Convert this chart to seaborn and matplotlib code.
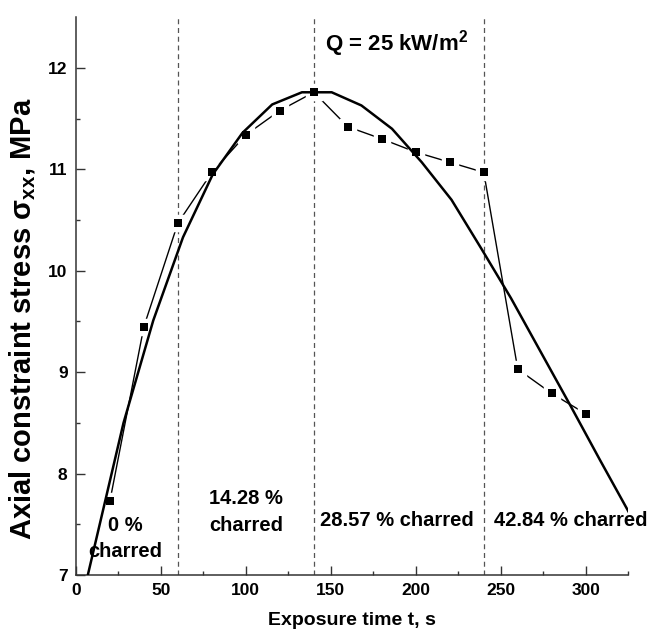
import matplotlib
matplotlib.use("Agg")
import matplotlib.pyplot as plt
import seaborn as sns
import pandas as pd

# Measured axial constraint stress vs exposure time
time_s = [20, 40, 60, 80, 100, 120, 140, 160, 180, 200, 220, 240, 260, 280, 300]
stress_mpa = [7.73, 9.45, 10.47, 10.97, 11.34, 11.58, 11.76, 11.42, 11.30, 11.17,
              11.07, 10.97, 9.03, 8.79, 8.59]

# Smoothed trend curve
fit_time = [7, 28, 45.5, 63, 80.5, 98, 115.5, 133, 150.5, 168, 186, 203.5, 221,
            238.5, 256, 273.5, 291, 308.5, 326]
fit_stress = [7.0, 8.50, 9.51, 10.33, 10.95, 11.36, 11.64, 11.76, 11.76, 11.63,
              11.40, 11.07, 10.70, 10.22, 9.73, 9.20, 8.67, 8.13, 7.60]

# Char-layer stage boundaries and labels
stage_bounds = [60, 140, 240]
stage_labels = ["0 %\ncharred", "14.28 %\ncharred", "28.57 % charred", "42.84 % charred"]
stage_label_x = [29, 100, 189, 291]
stage_label_y = [7.36, 7.62, 7.54, 7.54]

sns.set_theme(style="ticks")
plt.rcParams["font.family"] = ["Liberation Sans", "DejaVu Sans"]
plt.rcParams["font.weight"] = "bold"
plt.rcParams["mathtext.default"] = "regular"
plt.rcParams["text.color"] = "black"
plt.rcParams["axes.labelcolor"] = "black"
plt.rcParams["xtick.labelcolor"] = "black"
plt.rcParams["ytick.labelcolor"] = "black"

fig = plt.figure(figsize=(6.49, 6.36), dpi=100)
ax = fig.add_axes([0.117, 0.0959, 0.851, 0.877])

data = pd.DataFrame({"t": time_s, "s": stress_mpa})
fit = pd.DataFrame({"t": fit_time, "s": fit_stress})

# thin connecting line of the measurements
sns.lineplot(data=data, x="t", y="s", ax=ax, color="black", lw=1.0,
             estimator=None, sort=False, zorder=2)
# white halo around markers leaves a gap in the connecting line
ax.plot(data["t"], data["s"], ls="none", marker="s", ms=9.5, mfc="white",
        mec="white", mew=2.5, zorder=3)
# trend curve
sns.lineplot(data=fit, x="t", y="s", ax=ax, color="black", lw=1.8,
             estimator=None, sort=False, zorder=4)
# square markers
ax.plot(data["t"], data["s"], ls="none", marker="s", ms=6.2, mfc="black",
        mec="black", mew=0, zorder=5)

for b in stage_bounds:
    ax.axvline(b, color="#555555", lw=0.9, ls=(0, (4, 3)), zorder=1)

for lbl, xx, yy in zip(stage_labels, stage_label_x, stage_label_y):
    ax.text(xx, yy, lbl, ha="center", va="center", fontsize=14.5,
            fontweight="bold", linespacing=1.5, clip_on=False, zorder=6)

ax.text(146.5, 12.17, "Q = 25 kW/m$^2$", ha="left", va="baseline",
        fontsize=16, fontweight="bold")

ax.set_xlim(0, 325)
ax.set_ylim(7, 12.5)
ax.set_xticks([0, 50, 100, 150, 200, 250, 300])
ax.set_xticks([25, 75, 125, 175, 225, 275, 325], minor=True)
ax.set_yticks([7, 8, 9, 10, 11, 12])
ax.set_yticks([7.5, 8.5, 9.5, 10.5, 11.5], minor=True)

ax.tick_params(axis="both", which="major", direction="in", length=6.5,
               width=1.0, color="#333333", labelsize=12.5, pad=6)
ax.tick_params(axis="both", which="minor", direction="in", length=3,
               width=1.0, color="#333333")
for lab in ax.get_xticklabels() + ax.get_yticklabels():
    lab.set_fontweight("bold")

sns.despine(ax=ax)
for side in ["left", "bottom"]:
    ax.spines[side].set_color("#333333")
    ax.spines[side].set_linewidth(1.1)

ax.set_xlabel("Exposure time t, s", fontsize=14, fontweight="bold")
ax.set_ylabel("Axial constraint stress σ$_{xx}$, MPa", fontsize=21,
              fontweight="bold")
ax.xaxis.set_label_coords(0.5, -0.066)
ax.yaxis.set_label_coords(-0.068, 0.46)

fig.savefig("out.png", dpi=100)
